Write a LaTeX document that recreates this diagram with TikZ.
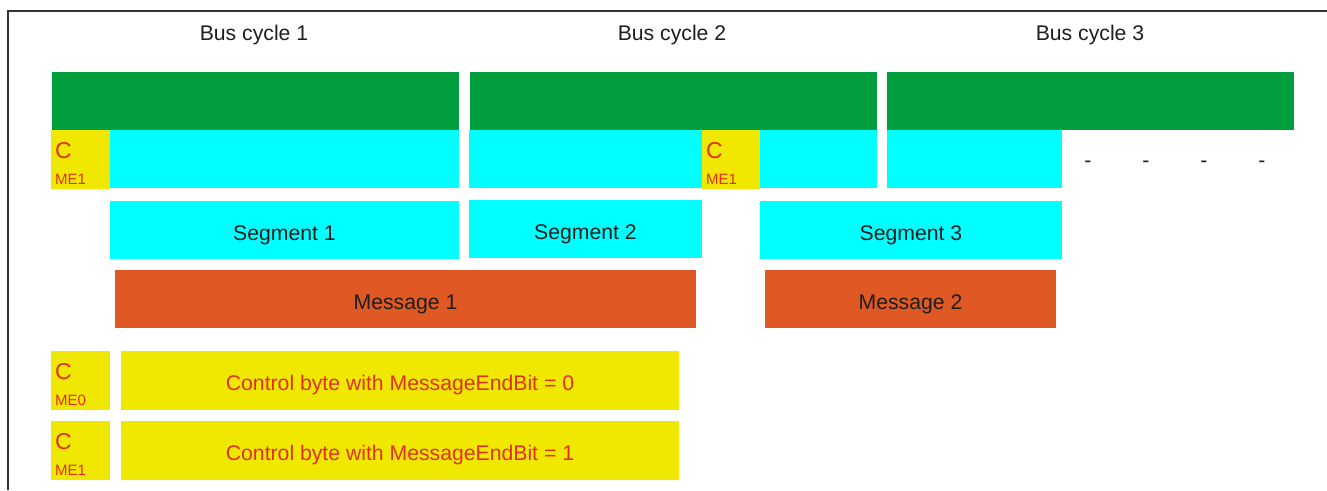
\documentclass[tikz,border=0pt]{standalone}
\usepackage{fontspec}
\setmainfont{Liberation Sans}
\usetikzlibrary{calc}
\definecolor{busgreen}{RGB}{0,158,61}
\definecolor{segcyan}{RGB}{0,255,255}
\definecolor{ctlyellow}{RGB}{240,232,0}
\definecolor{msgorange}{RGB}{224,88,36}
\definecolor{ctlred}{RGB}{226,48,32}
\definecolor{txtgray}{RGB}{30,30,30}

\begin{document}
\begin{tikzpicture}[x=1pt,y=-1pt,
  box/.style={anchor=north west, inner sep=0pt, outer sep=0pt,
    text height=20pt, text depth=0pt,
    font=\fontsize{21.2}{25}\selectfont, text=txtgray},
  bar/.style={box, fill=busgreen, minimum width=407pt, minimum height=58pt},
  seg/.style={box, fill=segcyan, minimum height=58pt},
  msg/.style={box, fill=msgorange, minimum height=58pt},
  ctl/.style={box, fill=ctlyellow, minimum height=59pt, text=ctlred},
  cbox/.style={box, fill=ctlyellow, minimum width=59pt, minimum height=59pt},
  cbig/.style={anchor=base west, inner sep=0pt, text=ctlred,
    font=\fontsize{23}{26}\selectfont},
  csmall/.style={anchor=base west, inner sep=0pt, text=ctlred,
    font=\fontsize{15}{18}\selectfont},
  lbl/.style={inner sep=0pt, text=txtgray, font=\fontsize{21.2}{25}\selectfont}]
\useasboundingbox (0,0) rectangle (1327,490);
\draw[line width=1.5pt, black!80] (8,490) -- (8,11) -- (1327,11);

% bus cycles
\node[lbl] (t1) at (254,35) {Bus cycle 1};
\node[lbl] (t2) at (672,35) {Bus cycle 2};
\node[lbl] (t3) at (1090,35) {Bus cycle 3};
\node[bar] (b1) at (52,72) {};
\node[bar] (b2) at (470,72) {};
\node[bar] (b3) at (887,72) {};

% frame contents
\node[seg, minimum width=349pt] (f1) at (110,130) {};
\node[seg, minimum width=233pt] (f2) at (469,130) {};
\node[seg, minimum width=117pt] (f3) at (760,130) {};
\node[seg, minimum width=175pt] (f4) at (887,130) {};
\node[cbox] (k1) at (51,130) {};
\node[cbig] at ($(k1.north west)+(4,28)$) {C};
\node[csmall] at ($(k1.north west)+(4,54)$) {ME1};
\node[cbox, minimum width=58pt] (k2) at (702,130) {};
\node[cbig] at ($(k2.north west)+(4,28)$) {C};
\node[csmall] at ($(k2.north west)+(4,54)$) {ME1};
\foreach \x in {1088,1146,1204,1262}
  \node[lbl] at (\x,164) {-};

% segments
\node[seg, minimum width=349pt] (s1) at (110,201) {Segment 1};
\node[seg, minimum width=233pt] (s2) at (469,200) {Segment 2};
\node[seg, minimum width=302pt] (s3) at (760,201) {Segment 3};

% messages
\node[msg, minimum width=581pt] (m1) at (115,270) {Message 1};
\node[msg, minimum width=291pt] (m2) at (765,270) {Message 2};

% legend
\node[cbox] (l1) at (51,351) {};
\node[cbig] at ($(l1.north west)+(4,28)$) {C};
\node[csmall] at ($(l1.north west)+(4,54)$) {ME0};
\node[ctl, minimum width=558pt] (d1) at (121,351) {Control byte with MessageEndBit = 0};
\node[cbox] (l2) at (51,421) {};
\node[cbig] at ($(l2.north west)+(4,28)$) {C};
\node[csmall] at ($(l2.north west)+(4,54)$) {ME1};
\node[ctl, minimum width=558pt] (d2) at (121,421) {Control byte with MessageEndBit = 1};
\end{tikzpicture}
\end{document}
